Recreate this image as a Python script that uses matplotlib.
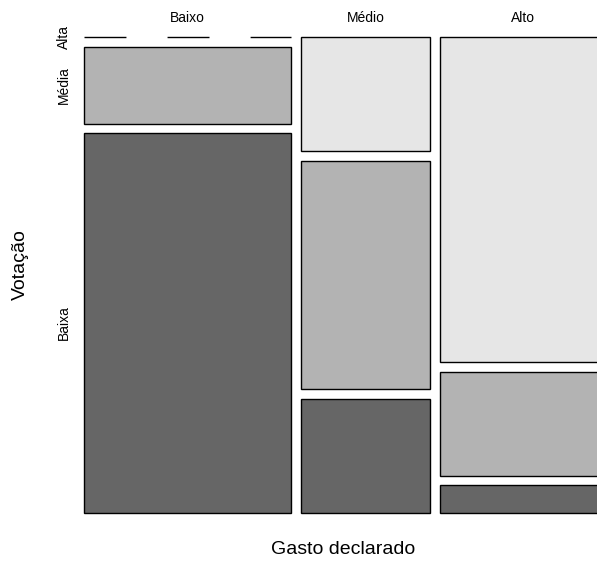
import numpy as np
import matplotlib
matplotlib.use("Agg")
import matplotlib.pyplot as plt
from matplotlib.patches import Rectangle

plt.rcParams['font.family'] = ['Liberation Sans', 'DejaVu Sans']

# contingency table: gasto declarado (columns) x votacao (rows, top to bottom)
gasto = ["Baixo", "Médio", "Alto"]
votacao = ["Alta", "Média", "Baixa"]
contagem_baixo = [0, 14, 69]
contagem_medio = [13, 26, 13]
contagem_alto = [47, 15, 4]
cores = ["#e6e6e6", "#b3b3b3", "#666666"]

tabela = np.array([contagem_baixo, contagem_medio, contagem_alto], dtype=float)

W, H = 597, 561
fig = plt.figure(figsize=(W / 100, H / 100), dpi=100)

# plot region in pixels (the right edge runs past the figure)
x0, x1, y0, y1 = 84, 605, 37, 513
ax = fig.add_axes([x0 / W, (H - y1) / H, (x1 - x0) / W, (y1 - y0) / H])
ax.set_xlim(0, x1 - x0)
ax.set_ylim(y1 - y0, 0)
ax.axis("off")

gap_x = 10.0
gap_y = 9.5
larg_total = (x1 - x0) - gap_x * (len(gasto) - 1)
alt_total = (y1 - y0) - gap_y * (len(votacao) - 1)

col_frac = tabela.sum(axis=1) / tabela.sum()
x = 0.0
for i, nome in enumerate(gasto):
    w = col_frac[i] * larg_total
    linha_frac = tabela[i] / tabela[i].sum()
    y = 0.0
    for j in range(len(votacao)):
        h = linha_frac[j] * alt_total
        if tabela[i, j] == 0:
            ax.plot([x, x + w], [y, y], color="black", lw=1.0,
                    linestyle=(0, (30.2, 29.6)), clip_on=False)
        else:
            ax.add_patch(Rectangle((x, y), w, h, facecolor=cores[j],
                                   edgecolor="black", lw=1.0, clip_on=False))
        if i == 0:
            ax.text(-20, y + h / 2, votacao[j], rotation=90, fontsize=10,
                    ha="center", va="center")
        y += h + gap_y
    ax.text(x + w / 2, -18.5, nome, fontsize=10, ha="center", va="center")
    x += w + gap_x

fig.text(343.5 / W, 1 - 549 / H, "Gasto declarado", fontsize=14,
         ha="center", va="center")
fig.text(20 / W, 1 - 265 / H, "Votação", fontsize=14, rotation=90,
         ha="center", va="center")

fig.savefig("out.png", dpi=100)
